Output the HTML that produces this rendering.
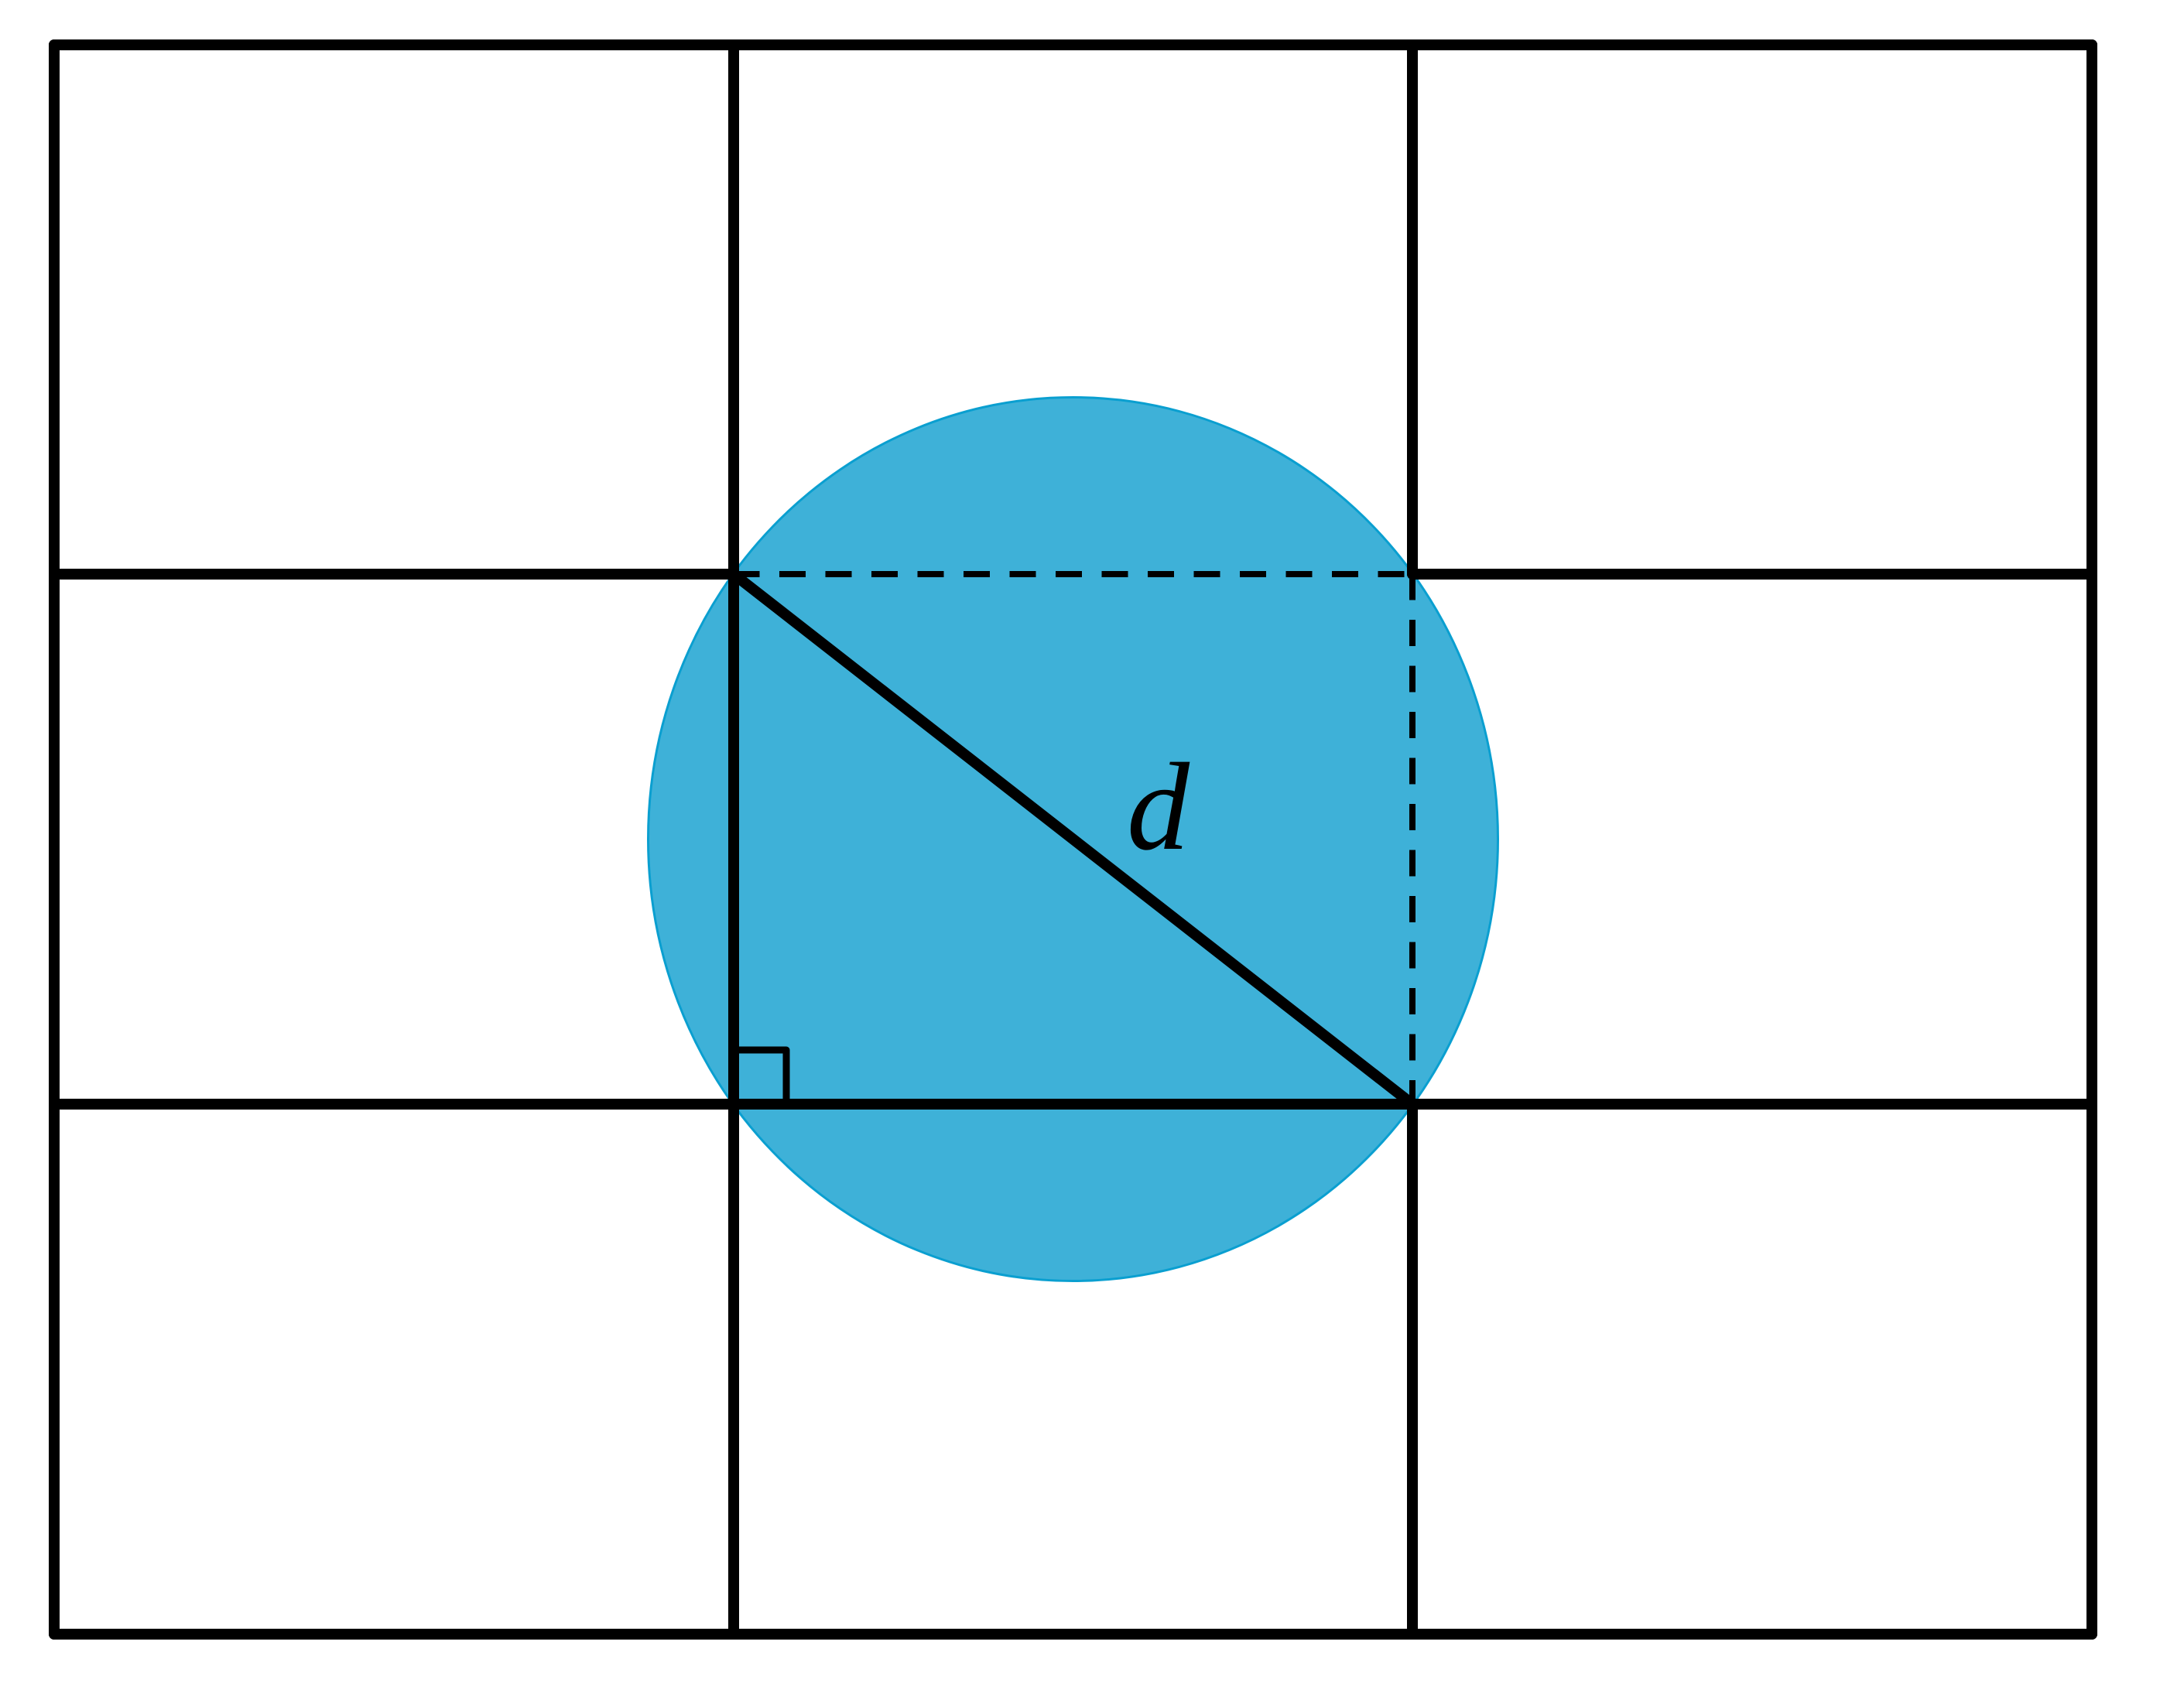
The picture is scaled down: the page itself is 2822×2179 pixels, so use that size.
<!DOCTYPE html>
<html><head><meta charset="utf-8"><style>
html,body{margin:0;padding:0;background:#fff;}
svg{display:block;}
</style></head><body>
<svg width="2822" height="2179" viewBox="0 0 2822 2179" xmlns="http://www.w3.org/2000/svg">
  <ellipse cx="1386.5" cy="1084.5" rx="549" ry="571" fill="#3eb1d8" stroke="#0a9fd0" stroke-width="3"/>
  <g stroke="#000" stroke-width="8" fill="none" stroke-dasharray="34 25.5">
    <line x1="947.5" y1="742" x2="1825" y2="742"/>
    <line x1="1825" y1="741.5" x2="1825" y2="1427"/>
  </g>
  <g stroke="#000" stroke-width="14" stroke-linecap="round" fill="none">
    <line x1="70" y1="58" x2="70" y2="2112"/>
    <line x1="948" y1="58" x2="948" y2="2112"/>
    <line x1="1825" y1="58" x2="1825" y2="742"/>
    <line x1="1825" y1="1427" x2="1825" y2="2112"/>
    <line x1="2703" y1="58" x2="2703" y2="2112"/>
    <line x1="70" y1="58" x2="2703" y2="58"/>
    <line x1="70" y1="742" x2="948" y2="742"/>
    <line x1="1825" y1="742" x2="2703" y2="742"/>
    <line x1="70" y1="1427" x2="2703" y2="1427"/>
    <line x1="70" y1="2112" x2="2703" y2="2112"/>
    <line x1="948" y1="742" x2="1825" y2="1427"/>
  </g>
  <polyline points="948,1357 1016,1357 1016,1427" fill="none" stroke="#000" stroke-width="9" stroke-linejoin="round"/>
  <text x="1456" y="1097" font-family="Liberation Serif, serif" font-style="italic" font-size="162" fill="#000">d</text>
</svg>
</body></html>
